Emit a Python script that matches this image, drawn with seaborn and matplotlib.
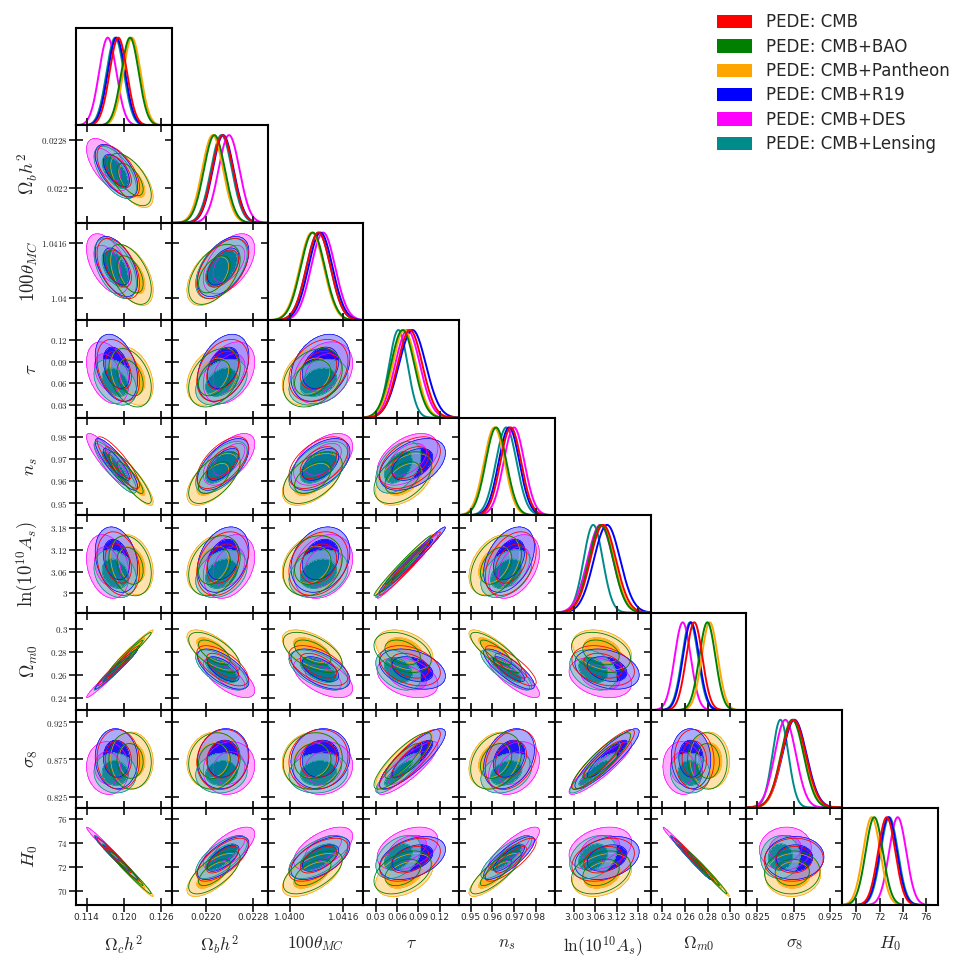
import numpy as np
import matplotlib
matplotlib.use("Agg")
import matplotlib.pyplot as plt
import seaborn as sns
from matplotlib.patches import Patch
from matplotlib.colors import to_rgba

# datasets (legend order)
datasets = ['PEDE: CMB', 'PEDE: CMB+BAO', 'PEDE: CMB+Pantheon',
            'PEDE: CMB+R19', 'PEDE: CMB+DES', 'PEDE: CMB+Lensing']
colors = ['red', 'green', 'orange', 'blue', 'magenta', 'darkcyan']
# lighter shade used for the 95% fill
outer_colors = ['#ff8c8c', '#8cc58c', '#ffd68c', '#8c8cff', '#ff8cff', '#8ccaca']

param_labels = [r'$\Omega_c h^2$', r'$\Omega_b h^2$', r'$100\theta_{MC}$', r'$\tau$',
                r'$n_s$', r'${\rm ln}(10^{10} A_s)$', r'$\Omega_{m0}$', r'$\sigma_8$', r'$H_0$']

mean_omch2 = [0.1191, 0.1210, 0.1213, 0.1188, 0.1174, 0.1186]
mean_ombh2 = [0.02228, 0.02214, 0.02211, 0.02229, 0.02239, 0.02226]
mean_theta = [1.04086, 1.04069, 1.04066, 1.04092, 1.04100, 1.04086]
mean_tau = [0.0780, 0.0677, 0.0701, 0.0815, 0.0746, 0.0617]
mean_ns = [0.9685, 0.9617, 0.9609, 0.9677, 0.9700, 0.9664]
mean_logA = [3.082, 3.076, 3.079, 3.093, 3.074, 3.054]
mean_omegam = [0.2682, 0.2797, 0.2818, 0.2653, 0.2580, 0.2645]
mean_sigma8 = [0.875, 0.873, 0.874, 0.876, 0.8635, 0.8568]
mean_H0 = [72.60, 71.53, 71.31, 72.74, 73.54, 72.82]

# 1 sigma widths
sig_omch2 = [0.0014] * 6
sig_ombh2 = [0.00018] * 6
sig_theta = [0.00036] * 6
sig_tau = [0.0175, 0.0165, 0.0165, 0.019, 0.0175, 0.013]
sig_ns = [0.0048] * 6
sig_logA = [0.036, 0.034, 0.034, 0.037, 0.036, 0.027]
sig_omegam = [0.0071] * 6
sig_sigma8 = [0.0165, 0.0155, 0.0155, 0.0165, 0.0145, 0.011]
sig_H0 = [0.74] * 6

# pair correlations (lower triangle, same parameter order)
corr_rows = [
    [],
    [-0.60],
    [-0.50, 0.50],
    [-0.35, 0.35, 0.30],
    [-0.87, 0.60, 0.50, 0.45],
    [-0.25, 0.30, 0.25, 0.985, 0.40],
    [0.98, -0.65, -0.55, -0.35, -0.82, -0.30],
    [-0.05, 0.10, 0.10, 0.85, 0.30, 0.90, -0.05],
    [-0.985, 0.68, 0.58, 0.40, 0.82, 0.30, -0.99, 0.05],
]

# axis ranges and ticks
limits = [(0.11227, 0.12774), (0.02141, 0.02305), (1.03934, 1.04220), (0.0123, 0.1473),
          (0.9446, 0.9889), (2.946, 3.216), (0.2298, 0.3141), (0.8103, 0.9414), (68.78, 77.0)]
ticks = [[0.114, 0.120, 0.126], [0.0220, 0.0228], [1.0400, 1.0416], [0.03, 0.06, 0.09, 0.12],
         [0.95, 0.96, 0.97, 0.98], [3.00, 3.06, 3.12, 3.18], [0.24, 0.26, 0.28, 0.30],
         [0.825, 0.875, 0.925], [70, 72, 74, 76]]
xtick_labels = [['0.114', '0.120', '0.126'], ['0.0220', '0.0228'], ['1.0400', '1.0416'],
                ['0.03', '0.06', '0.09', '0.12'], ['0.95', '0.96', '0.97', '0.98'],
                ['3.00', '3.06', '3.12', '3.18'], ['0.24', '0.26', '0.28', '0.30'],
                ['0.825', '0.875', '0.925'], ['70', '72', '74', '76']]
ytick_labels = [['0.114', '0.12', '0.126'], ['0.022', '0.0228'], ['1.04', '1.0416'],
                ['0.03', '0.06', '0.09', '0.12'], ['0.95', '0.96', '0.97', '0.98'],
                ['3', '3.06', '3.12', '3.18'], ['0.24', '0.26', '0.28', '0.3'],
                ['0.825', '0.875', '0.925'], ['70', '72', '74', '76']]

means = [mean_omch2, mean_ombh2, mean_theta, mean_tau, mean_ns, mean_logA,
         mean_omegam, mean_sigma8, mean_H0]
sigmas = [sig_omch2, sig_ombh2, sig_theta, sig_tau, sig_ns, sig_logA,
          sig_omegam, sig_sigma8, sig_H0]
npar = len(param_labels)

sns.set_style('ticks')
plt.rcParams['mathtext.fontset'] = 'cm'
plt.rcParams['font.family'] = ['DejaVu Sans']

fig, axes = plt.subplots(npar, npar, figsize=(9.67, 9.71), dpi=100)
fig.subplots_adjust(left=76/967, right=938/967, top=1-28/971, bottom=1-905/971,
                    wspace=0, hspace=0)

chi2_levels = [0, 2.28, 5.99]   # 68% and 95% for 2D gaussian
fill_order = [2, 4, 3, 5]       # Pantheon, DES, R19, Lensing filled
line_order = [0, 1]             # CMB, BAO only outlines
curve_order = [5, 4, 3, 2, 1, 0]

for i in range(npar):
    for j in range(npar):
        ax = axes[i, j]
        if j > i:
            ax.axis('off')
            continue
        for s in ax.spines.values():
            s.set_linewidth(1.5)
            s.set_color('black')
        ax.set_xlim(limits[j])
        ax.set_xticks(ticks[j])
        if i == j:
            xg = np.linspace(limits[j][0], limits[j][1], 300)
            for k in curve_order:
                yv = np.exp(-0.5 * ((xg - means[j][k]) / sigmas[j][k]) ** 2)
                sns.lineplot(x=xg, y=yv, ax=ax, color=colors[k], lw=1.4, legend=False)
            ax.set_ylim(0, 1.11)
            ax.set_yticks([])
            ax.tick_params(axis='x', direction='inout', length=10, width=1.3,
                           bottom=True, top=False, labelbottom=False)
        else:
            ax.set_ylim(limits[i])
            ax.set_yticks(ticks[i])
            xg = np.linspace(limits[j][0], limits[j][1], 220)
            yg = np.linspace(limits[i][0], limits[i][1], 220)
            X, Y = np.meshgrid(xg, yg)
            r = corr_rows[i][j]

            def chi2(k):
                dx = (X - means[j][k]) / sigmas[j][k]
                dy = (Y - means[i][k]) / sigmas[i][k]
                return (dx**2 - 2*r*dx*dy + dy**2) / (1 - r**2)

            for k in fill_order:
                c2 = chi2(k)
                ax.contourf(X, Y, c2, levels=chi2_levels,
                            colors=[to_rgba(colors[k], 0.88), to_rgba(outer_colors[k], 0.72)])
                ax.contour(X, Y, c2, levels=chi2_levels[1:], colors=[colors[k]],
                           linewidths=0.5)
            for k in line_order:
                ax.contour(X, Y, chi2(k), levels=chi2_levels[1:], colors=[colors[k]],
                           linewidths=0.6)
            ax.tick_params(direction='inout', length=10, width=1.3, top=True, right=True,
                           bottom=True, left=True, labelbottom=False, labelleft=False)
        ax.set_xlabel('')
        ax.set_ylabel('')
        if i == npar - 1:
            ax.tick_params(axis='x', labelbottom=True, labelsize=6.5, pad=1)
            ax.set_xticklabels(xtick_labels[j])
            ax.set_xlabel(param_labels[j], fontsize=12.5)
            ax.xaxis.set_label_coords(0.5, -0.30)
        if j == 0 and i > 0:
            ax.tick_params(axis='y', labelleft=True, labelsize=6.5, pad=1)
            ax.set_yticklabels(['$%s$' % t for t in ytick_labels[i]])
            ax.set_ylabel(param_labels[i], fontsize=13.5)
            ax.yaxis.set_label_coords(-0.38, 0.5)

handles = [Patch(facecolor=c, edgecolor='none', label=l) for c, l in zip(colors, datasets)]
fig.legend(handles=handles, loc='upper left', bbox_to_anchor=(0.735, 0.993),
           frameon=False, fontsize=12, handlelength=2.1, handleheight=0.85,
           labelspacing=0.38, handletextpad=0.8, borderaxespad=0)

fig.savefig('out.png', dpi=100)
